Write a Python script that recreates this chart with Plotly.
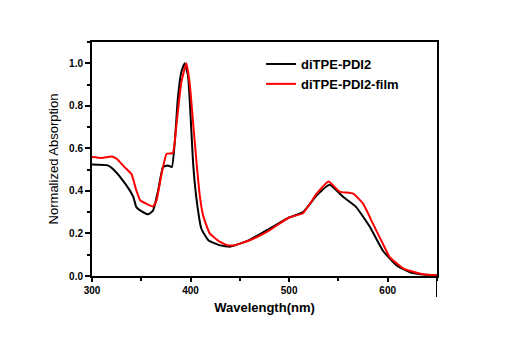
import plotly.graph_objects as go

wl_black = [300, 316, 321, 330, 338, 342, 345, 350, 357, 362, 367, 372, 377, 381, 384, 387, 390.6, 394, 397.4, 400, 402.5, 406, 411, 418, 430, 440, 450, 460, 480, 500, 514, 528, 541, 555, 568, 582, 595, 609, 622, 636, 650]
abs_black = [0.524, 0.52, 0.504, 0.457, 0.405, 0.371, 0.324, 0.305, 0.29, 0.308, 0.40, 0.512, 0.52, 0.512, 0.63, 0.83, 0.958, 1.0, 0.942, 0.754, 0.535, 0.363, 0.222, 0.168, 0.144, 0.138, 0.152, 0.17, 0.222, 0.275, 0.30, 0.379, 0.429, 0.371, 0.324, 0.23, 0.12, 0.05, 0.019, 0.007, 0.003]

wl_red = [300, 310, 320, 325, 333, 340, 345, 349, 355, 362, 365.5, 370.6, 375.7, 382, 385.6, 390.6, 395.7, 399, 402.5, 406, 409.3, 412.7, 419.4, 430, 438, 445, 460, 480, 500, 514, 528, 540, 551, 565, 575, 585, 595, 602, 616, 636, 650]
abs_red = [0.559, 0.555, 0.562, 0.551, 0.512, 0.48, 0.402, 0.355, 0.34, 0.327, 0.355, 0.48, 0.575, 0.578, 0.707, 0.91, 1.0, 0.91, 0.723, 0.535, 0.379, 0.285, 0.2, 0.16, 0.144, 0.145, 0.168, 0.215, 0.275, 0.295, 0.387, 0.444, 0.397, 0.387, 0.34, 0.246, 0.152, 0.089, 0.035, 0.008, 0.002]

x_ticks = [300, 400, 500, 600]
y_ticks = [0.0, 0.2, 0.4, 0.6, 0.8, 1.0]

FONT = "Liberation Sans"

fig = go.Figure()
fig.add_trace(go.Scatter(x=wl_black, y=abs_black, mode="lines", name="<b>diTPE-PDI2</b>",
                         line=dict(color="black", width=2, shape="spline", smoothing=0.4)))
fig.add_trace(go.Scatter(x=wl_red, y=abs_red, mode="lines", name="<b>diTPE-PDI2-film</b>",
                         line=dict(color="red", width=2, shape="spline", smoothing=0.4)))

# right axis line extending below the frame (as in the original)
fig.add_shape(type="line", xref="x", yref="paper", x0=650, x1=650, y0=0, y1=-0.09,
              line=dict(color="black", width=2))

fig.update_layout(
    width=503, height=351,
    margin=dict(l=84, r=74, t=34, b=83),
    paper_bgcolor="white", plot_bgcolor="white",
    font=dict(family=FONT, color="black"),
    showlegend=True,
    legend=dict(x=0.49, y=0.97, xanchor="left", yanchor="top",
                bgcolor="rgba(0,0,0,0)", font=dict(size=13, family=FONT),
                tracegroupgap=0, itemwidth=30),
    xaxis=dict(range=[300, 650], tickvals=x_ticks, ticktext=[f"<b>{v}</b>" for v in x_ticks],
               ticks="outside", ticklen=4, tickwidth=1.5, tickcolor="black",
               minor=dict(dtick=50, tick0=300, ticks="outside", ticklen=3, tickcolor="black", tickwidth=1.5),
               showline=True, linewidth=2, linecolor="black", mirror=True,
               showgrid=False, zeroline=False,
               tickfont=dict(size=10, family=FONT),
               title=dict(text="<b>Wavelength(nm)</b>", font=dict(size=13, family=FONT), standoff=8)),
    yaxis=dict(range=[0, 1.1], tickvals=y_ticks, ticktext=[f"<b>{v:.1f}</b>" for v in y_ticks],
               ticks="outside", ticklen=5, tickwidth=1.5, tickcolor="black",
               minor=dict(dtick=0.1, tick0=0, ticks="outside", ticklen=3, tickcolor="black", tickwidth=1.5),
               showline=True, linewidth=2, linecolor="black", mirror=True,
               showgrid=False, zeroline=False,
               tickfont=dict(size=10, family=FONT),
               title=dict(text="Normalized Absorption", font=dict(size=13, family=FONT), standoff=8)),
)

fig.write_html("out.html")
